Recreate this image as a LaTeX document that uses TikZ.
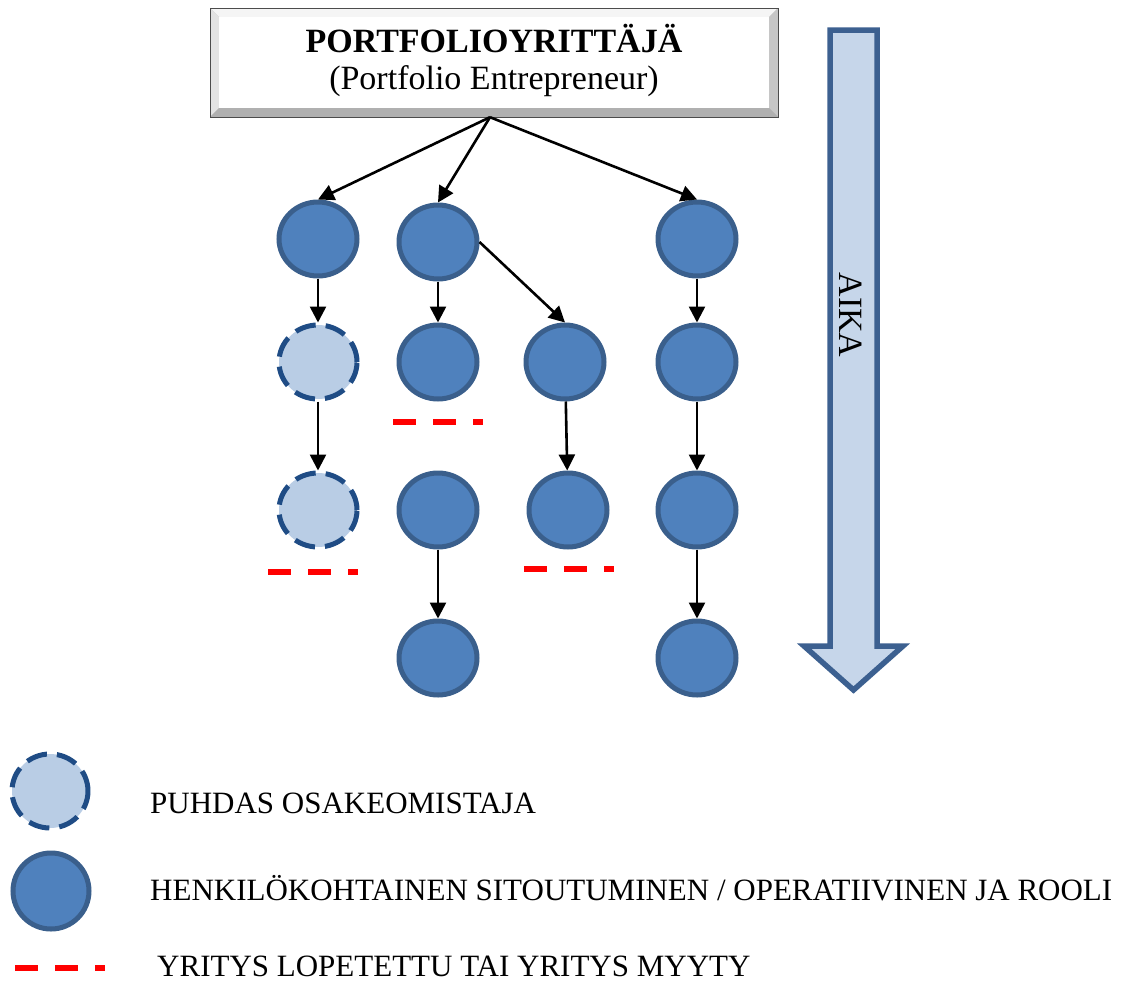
\documentclass[tikz,border=0pt]{standalone}
\usepackage{fontspec}
\setmainfont{Liberation Serif}
\usetikzlibrary{arrows.meta,shapes.geometric}

\definecolor{nodefill}{HTML}{4F81BD}
\definecolor{nodeedge}{HTML}{3A5F8C}
\definecolor{sharefill}{HTML}{B9CDE5}
\definecolor{shareedge}{HTML}{1F4C85}
\definecolor{timefill}{HTML}{C6D6EA}
\definecolor{timeedge}{HTML}{3C6090}
\definecolor{endred}{HTML}{FF0000}

\begin{document}
\begin{tikzpicture}[x=1pt,y=-1pt,
  firm/.style={ellipse, minimum width=78pt, minimum height=74pt, inner sep=0pt,
    fill=nodefill, draw=nodeedge, line width=5pt},
  share/.style={ellipse, minimum width=78pt, minimum height=74pt, inner sep=0pt,
    fill=sharefill, draw=shareedge, line width=5pt, dash pattern=on 21pt off 10pt},
  link/.style={line width=2.6pt, -{Triangle[length=16pt,width=16pt]}},
  closed/.style={draw=endred, line width=6pt, dash pattern=on 23pt off 17pt},
  legend/.style={anchor=base west, inner sep=0pt, text depth=0pt,
    font=\fontsize{31}{36}\selectfont}]

\useasboundingbox (0,0) rectangle (1133,983);

% bevelled title box
\fill[gray!55] (210,8) rectangle (778,117);
\fill[gray!8]  (210,8) -- (778,8) -- (769,17) -- (219,17) -- cycle;
\fill[gray!22] (210,8) -- (219,17) -- (219,108) -- (210,117) -- cycle;
\fill[gray!45] (778,8) -- (778,117) -- (769,108) -- (769,17) -- cycle;
\fill[gray!62] (210,117) -- (778,117) -- (769,108) -- (219,108) -- cycle;
\fill[white] (219,17) rectangle (769,108);
\draw[gray!60!black, line width=1pt] (210,8) rectangle (778,117);
\node[minimum width=568pt, minimum height=109pt, inner sep=0pt] (box) at (494,62.5) {};
\node[anchor=base, inner sep=0pt, font=\fontsize{34}{40}\selectfont\bfseries] (title) at (494,52) {PORTFOLIOYRITTÄJÄ};
\node[anchor=base, inner sep=0pt, font=\fontsize{34}{40}\selectfont] (subtitle) at (494,89) {(Portfolio Entrepreneur)};

% time arrow
\filldraw[fill=timefill, draw=timeedge, line width=5.5pt, line join=miter]
  (830,30) -- (877,30) -- (877,646) -- (903,646) -- (853.5,690) -- (804,646) -- (830,646) -- cycle;
\node[rotate=-90, inner sep=0pt, font=\fontsize{34}{40}\selectfont] (aika) at (851,315) {AIKA};

% companies
\node[firm]  (c11) at (318,239) {};
\node[firm]  (c12) at (438,242) {};
\node[firm]  (c14) at (697,239) {};
\node[share] (c21) at (318,362) {};
\node[firm]  (c22) at (438,362) {};
\node[firm]  (c23) at (565,362) {};
\node[firm]  (c24) at (697,362) {};
\node[share] (c31) at (318,510) {};
\node[firm]  (c32) at (438,510) {};
\node[firm]  (c33) at (568,510) {};
\node[firm]  (c34) at (697,510) {};
\node[firm]  (c42) at (438,658) {};
\node[firm]  (c44) at (697,658) {};

% ownership links
\draw[link] ([xshift=-4pt]box.south) -- (c11.north);
\draw[link] ([xshift=-4pt]box.south) -- (c12.north);
\draw[link] ([xshift=-4pt]box.south) -- (c14.north);
\draw[link] (c12.east) -- (c23.north);
\draw[link] (c11) -- (c21);
\draw[link] (c21) -- (c31);
\draw[link] (c12) -- (c22);
\draw[link] (c32) -- (c42);
\draw[link] (c23) -- (c33);
\draw[link] (c14) -- (c24);
\draw[link] (c24) -- (c34);
\draw[link] (c34) -- (c44);

% closed or sold companies
\draw[closed] (393,422) -- (483,422);
\draw[closed] (268,572) -- (358,572);
\draw[closed] (524,569) -- (614,569);

% legend
\node[share, minimum width=76pt, minimum height=74pt] (keyshare) at (50,791) {};
\node[firm, minimum width=76pt, minimum height=76pt] (keyfirm) at (51,891) {};
\draw[closed] (15,968) -- (105,968);
\node[legend] (keysharetext) at (150,813) {PUHDAS OSAKEOMISTAJA};
\node[legend] (keyfirmtext) at (150,900) {HENKILÖKOHTAINEN SITOUTUMINEN / OPERATIIVINEN JA ROOLI};
\node[legend] (keyclosedtext) at (157,976) {YRITYS LOPETETTU TAI YRITYS MYYTY};

\end{tikzpicture}
\end{document}
